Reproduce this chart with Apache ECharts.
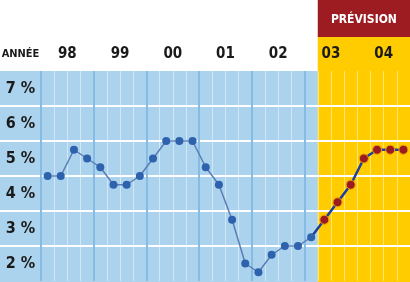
<!DOCTYPE html>
<html>
<head>
<meta charset="utf-8">
<script src="https://cdn.jsdelivr.net/npm/echarts@6/dist/echarts.min.js"></script>
<style>
  html, body { margin: 0; padding: 0; background: #ffffff; }
  #c { width: 410px; height: 282px; }
</style>
</head>
<body>
<div id="c"></div>
<script>
// Quarterly categories, 1998 to 2004
const trimestres = [
  '98-T1', '98-T2', '98-T3', '98-T4',
  '99-T1', '99-T2', '99-T3', '99-T4',
  '00-T1', '00-T2', '00-T3', '00-T4',
  '01-T1', '01-T2', '01-T3', '01-T4',
  '02-T1', '02-T2', '02-T3', '02-T4',
  '03-T1', '03-T2', '03-T3', '03-T4',
  '04-T1', '04-T2', '04-T3', '04-T4'
];
const annees = ['98', '99', '00', '01', '02', '03', '04'];
const paliers = ['2 %', '3 %', '4 %', '5 %', '6 %', '7 %'];

// Observed rate (%), 98-T1 .. 03-T1
const historique = [
  5.0, 5.0, 5.75, 5.5,
  5.25, 4.75, 4.75, 5.0,
  5.5, 6.0, 6.0, 6.0,
  5.25, 4.75, 3.75, 2.5,
  2.25, 2.75, 3.0, 3.0,
  3.25
];
// Forecast rate (%), 03-T2 .. 04-T4
const prevision = [3.75, 4.25, 4.75, 5.5, 5.75, 5.75, 5.75];

const FONT = "'DejaVu Sans', sans-serif";
const ETROIT = 'condensed';

// Forecast series starts from the last observed point so the line is continuous
const dernier = historique.length - 1;
const serieprevision = trimestres.map(function (t, i) {
  if (i < dernier) return null;
  if (i === dernier) return { value: historique[dernier], symbol: 'none' };
  return prevision[i - dernier - 1];
});

const bleuAnnee = '#86bbe3';

const chart = echarts.init(document.getElementById('c'));
chart.setOption({
  animation: false,
  grid: [
    { left: 41, right: 0, top: 71, bottom: 1, outerBoundsMode: 'none' },
    { left: 0, width: 41, top: 71, bottom: 1, outerBoundsMode: 'none' }
  ],
  xAxis: [
    {
      type: 'category', gridIndex: 0, data: trimestres, position: 'top',
      axisLine: { show: false }, axisTick: { show: false }, axisLabel: { show: false },
      splitLine: { show: true, interval: 0, lineStyle: { color: 'rgba(255,255,255,0.45)', width: 1 } }
    },
    {
      type: 'category', gridIndex: 0, data: annees, position: 'top',
      axisLine: { show: false }, axisTick: { show: false },
      axisLabel: { interval: 0, margin: 9, fontSize: 15, fontStyle: ETROIT, fontWeight: 'bold', color: '#1a1a1a', fontFamily: FONT },
      splitLine: {
        show: true, interval: 0, showMaxLine: false,
        lineStyle: { color: [bleuAnnee, bleuAnnee, bleuAnnee, bleuAnnee, bleuAnnee, bleuAnnee, 'rgba(0,0,0,0)'], width: 2 }
      }
    },
    { type: 'value', gridIndex: 1, show: false }
  ],
  yAxis: [
    { type: 'value', gridIndex: 0, position: 'left', min: 2, max: 8, show: false },
    {
      type: 'category', gridIndex: 0, position: 'left', data: paliers,
      axisLine: { show: false }, axisTick: { show: false },
      axisLabel: { interval: 0, margin: 20.5, align: 'center', fontSize: 16, fontStyle: ETROIT, fontWeight: 'bold', color: '#1a1a1a', fontFamily: FONT },
      splitLine: { show: true, interval: 0, showMinLine: false, showMaxLine: false, lineStyle: { color: '#ffffff', width: 2 } }
    },
    {
      type: 'category', gridIndex: 1, position: 'left', data: paliers,
      axisLine: { show: false }, axisTick: { show: false }, axisLabel: { show: false },
      splitLine: { show: true, interval: 0, showMinLine: false, showMaxLine: false, lineStyle: { color: '#ffffff', width: 2 } }
    }
  ],
  series: [
    {
      name: 'Prévision', type: 'line', xAxisIndex: 0, yAxisIndex: 0,
      data: serieprevision, symbol: 'circle', symbolSize: 9, showAllSymbol: true,
      lineStyle: { color: '#1b3f9f', width: 2.5 },
      itemStyle: { color: '#9b1b22', borderColor: '#f2a400', borderWidth: 1 },
      z: 3
    },
    {
      name: 'Historique', type: 'line', xAxisIndex: 0, yAxisIndex: 0,
      data: historique, symbol: 'circle', symbolSize: 8, showAllSymbol: true,
      lineStyle: { color: '#5a7db4', width: 1.5 },
      itemStyle: { color: '#2e62ad' },
      z: 4
    }
  ]
});

// Background panels placed from the axis scales
const pas = chart.convertToPixel({ xAxisIndex: 0 }, trimestres[1]) - chart.convertToPixel({ xAxisIndex: 0 }, trimestres[0]);
const frontiere = chart.convertToPixel({ xAxisIndex: 0 }, trimestres[dernier + 1]) - pas / 2;
const haut = chart.convertToPixel({ yAxisIndex: 0 }, 8);
const largeur = chart.getWidth();
const hauteur = chart.getHeight();
const bandeau = 37;

chart.setOption({
  graphic: [
    { type: 'rect', z: -10, silent: true, shape: { x: 0, y: haut, width: frontiere, height: hauteur - haut }, style: { fill: '#acd3ee' } },
    { type: 'rect', z: -10, silent: true, shape: { x: frontiere, y: bandeau, width: largeur - frontiere, height: hauteur - bandeau }, style: { fill: '#ffcc00' } },
    { type: 'rect', z: -10, silent: true, shape: { x: frontiere, y: 0, width: largeur - frontiere, height: bandeau }, style: { fill: '#9c1c22' } },
    {
      type: 'text', z: -9, silent: true, x: (frontiere + largeur) / 2, y: bandeau / 2 + 1,
      style: { text: 'PRÉVISION', fill: '#ffffff', fontSize: 12, fontStyle: ETROIT, fontWeight: 'bold', fontFamily: FONT, align: 'center', verticalAlign: 'middle' }
    },
    {
      type: 'text', z: -9, silent: true, x: 20.5, y: 54.5,
      style: { text: 'ANNÉE', fill: '#1a1a1a', fontSize: 11, fontStyle: ETROIT, fontWeight: 'bold', fontFamily: FONT, align: 'center', verticalAlign: 'middle' }
    }
  ]
});
</script>
</body>
</html>
